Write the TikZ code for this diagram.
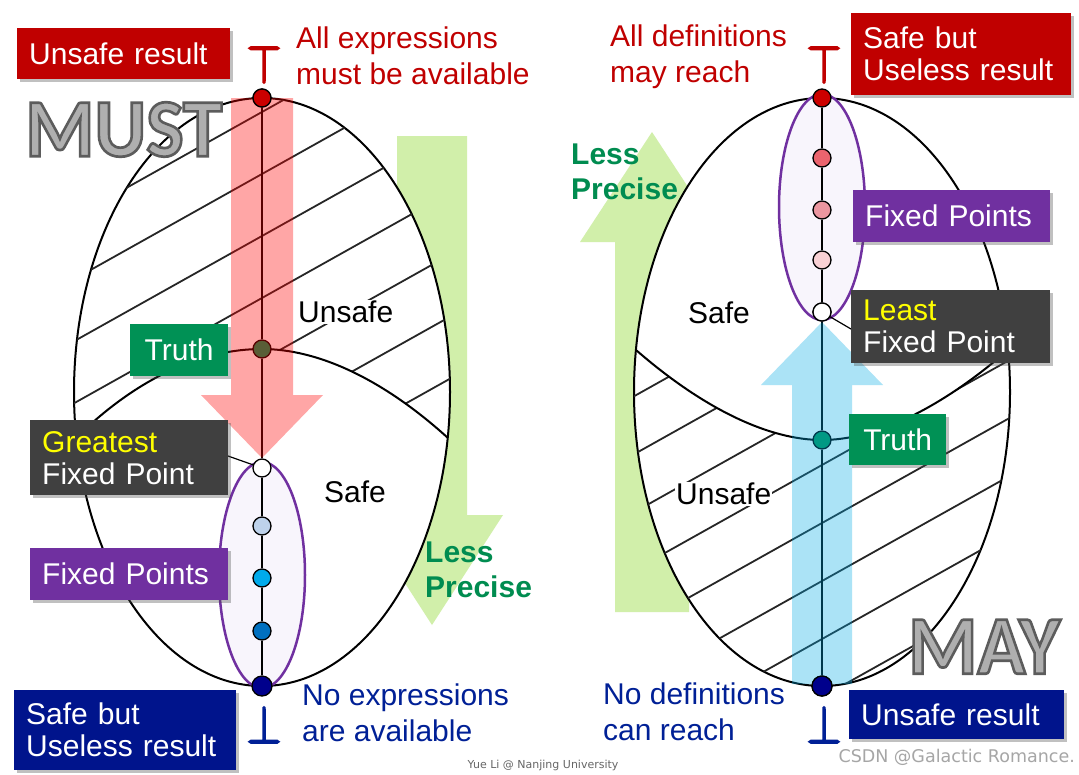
\documentclass[tikz,border=0pt]{standalone}
\usepackage{fontspec}
\setmainfont{Liberation Sans}
\newfontfamily\wordart{Carlito}
\newfontfamily\dejavu{DejaVu Sans}
\usetikzlibrary{shadows}
\definecolor{boxred}{RGB}{192,0,0}
\definecolor{txtred}{RGB}{192,0,0}
\definecolor{navybox}{RGB}{0,20,140}
\definecolor{navytxt}{RGB}{0,32,150}
\definecolor{truthgreen}{RGB}{0,145,85}
\definecolor{fppurple}{RGB}{112,48,160}
\definecolor{darkbox}{RGB}{64,64,64}
\definecolor{hiyellow}{RGB}{255,255,0}
\definecolor{lessgreen}{RGB}{209,239,170}
\definecolor{precgreen}{RGB}{0,140,80}
\definecolor{lavender}{RGB}{248,245,252}
\definecolor{arrowblue}{RGB}{0,170,230}
\definecolor{wordgray}{RGB}{175,175,175}
\definecolor{dotredA}{RGB}{204,0,0}
\definecolor{dotredB}{RGB}{235,100,110}
\definecolor{dotredC}{RGB}{235,150,160}
\definecolor{dotredD}{RGB}{248,208,212}
\definecolor{dotblueA}{RGB}{190,210,235}
\definecolor{dotblueB}{RGB}{0,170,235}
\definecolor{dotblueC}{RGB}{0,112,192}
\definecolor{dotnavy}{RGB}{0,0,140}
\newcommand\outlinedtext[1]{\special{pdf:literal direct 2 Tr 2.6 w 0.36 0.36 0.36 RG}#1\special{pdf:literal direct 0 Tr}}
\newcommand\thicksym[1]{\resizebox{34pt}{37pt}{\special{pdf:literal direct 2 Tr 0.4 w}$#1$\special{pdf:literal direct 0 Tr}}}
\tikzset{
  lbl/.style={font=\fontsize{30}{36}\selectfont, align=left, inner sep=0pt, anchor=west},
  boldlbl/.style={font=\fontsize{30}{35}\selectfont\bfseries, align=left, inner sep=0pt, anchor=west, text=precgreen},
  box/.style={font=\fontsize{30}{32}\selectfont, align=left, text=white, anchor=north west,
    inner xsep=12pt, inner ysep=0pt,
    drop shadow={shadow xshift=3pt, shadow yshift=-3pt, opacity=0.35, fill=black!70}},
  dot/.style={circle, draw=black, line width=1.3pt, minimum size=18pt, inner sep=0pt},
  hatch/.style={line width=1.8pt, black!85},
  outline/.style={line width=2pt, black},
  vline/.style={line width=1.2pt, black},
  fpell/.style={line width=2.5pt, draw=fppurple, fill=lavender},
  wordartstyle/.style={font=\wordart\bfseries\fontsize{80}{80}\selectfont, text=wordgray, inner sep=0pt, anchor=south west},
  bigsym/.style={inner sep=0pt, anchor=south},
}
\begin{document}
\begin{tikzpicture}[x=1pt,y=-1pt]
\useasboundingbox (0,0) rectangle (1079,774);
\fill[white] (0,0) rectangle (1079,774);

% green "less precise" arrows (behind ellipses)
\fill[lessgreen] (397,136) -- (467,136) -- (467,515) -- (503,515) -- (432,625) -- (361,515) -- (397,515) -- cycle;
\fill[lessgreen] (615,612) -- (689,612) -- (689,242) -- (724,242) -- (652,132) -- (580,242) -- (615,242) -- cycle;

% big ellipses
\draw[outline, fill=white] (262,392) ellipse [x radius=188, y radius=294];
\draw[outline, fill=white] (822,392) ellipse [x radius=188, y radius=294];

% hatching, left (upper region)
\begin{scope}
\clip (262,392) ellipse [x radius=188, y radius=294];
\clip (60,446) -- (76,438) .. controls (140,375) and (205,349) .. (262,349) .. controls (319,349) and (384,380) .. (448,438) -- (470,446) -- (470,80) -- (60,80) -- cycle;
\foreach \c in {112,174,236,298,360,422,484}
  \draw[hatch] (50,{\c+118.7}) -- (480,{\c-122.1});
\end{scope}
% hatching, right (lower region)
\begin{scope}
\clip (822,392) ellipse [x radius=188, y radius=294];
\clip (620,342) -- (636,350) .. controls (705,410) and (770,440) .. (822,440) .. controls (874,440) and (939,410) .. (1008,350) -- (1024,342) -- (1024,700) -- (620,700) -- cycle;
\foreach \c in {291,349,407,465,523,581,639,697}
  \draw[hatch] (620,{\c+113.1}) -- (1024,{\c-113.1});
\end{scope}

% boundary curves
\draw[outline] (76,438) .. controls (140,375) and (205,349) .. (262,349) .. controls (319,349) and (384,380) .. (448,438);
\draw[outline] (636,350) .. controls (705,410) and (770,440) .. (822,440) .. controls (874,440) and (939,410) .. (1008,350);

% fixed point ellipses
\draw[fpell] (262,575) ellipse [x radius=43, y radius=113];
\draw[fpell] (822,207) ellipse [x radius=43, y radius=113];

% dots
\node[dot, fill=dotredA] (L0) at (262,98) {};
\node[dot, fill=truthgreen] (LT) at (262,349) {};
\node[dot, fill=white] (L1) at (262,468) {};
\node[dot, fill=dotblueA] (L2) at (262,526) {};
\node[dot, fill=dotblueB] (L3) at (262,578) {};
\node[dot, fill=dotblueC] (L4) at (262,631) {};
\node[dot, fill=dotnavy, minimum size=20pt] (L5) at (262,686) {};

\node[dot, fill=dotredA] (R0) at (822,98) {};
\node[dot, fill=dotredB] (R1) at (822,158) {};
\node[dot, fill=dotredC] (R2) at (822,210) {};
\node[dot, fill=dotredD] (R3) at (822,260) {};
\node[dot, fill=white] (R4) at (822,312) {};
\node[dot, fill=truthgreen] (RT) at (822,440) {};
\node[dot, fill=dotnavy, minimum size=20pt] (R5) at (822,686) {};

% vertical chains
\draw[vline] (L0) -- (LT) -- (L1) -- (L2) -- (L3) -- (L4) -- (L5);
\draw[vline] (R0) -- (R1) -- (R2) -- (R3) -- (R4) -- (RT) -- (R5);

% semi-transparent direction arrows
\fill[red, opacity=0.35] (231,98) -- (293,98) -- (293,395) -- (323,395) -- (262,458) -- (201,395) -- (231,395) -- cycle;
\fill[arrowblue, opacity=0.33] (792,684) -- (852,684) -- (852,385) -- (883,385) -- (822,322) -- (761,385) -- (792,385) -- cycle;

% redraw end dots on top
\node[dot, fill=dotredA] at (262,98) {};
\node[dot, fill=dotnavy, minimum size=20pt] at (822,686) {};
\node[dot, fill=white] at (822,312) {};

% region labels
\node[lbl, fill=white, inner sep=1pt] (unsafeLtxt) at (297,312) {Unsafe};
\node[lbl] (safeLtxt) at (324,492) {Safe};
\node[lbl] (safeRtxt) at (688,313) {Safe};
\node[lbl, fill=white, inner sep=1pt] (unsafeRtxt) at (675,494) {Unsafe};

% top / bottom symbols
\node[bigsym, text=txtred] (topL) at (264,83) {\thicksym{\top}};
\node[bigsym, text=navytxt] (botL) at (264,743) {\thicksym{\bot}};
\node[bigsym, text=txtred] (topR) at (824,83) {\thicksym{\top}};
\node[bigsym, text=navytxt] (botR) at (824,743) {\thicksym{\bot}};

% captions
\node[lbl, text=txtred] (allexpr) at (296,56) {All expressions\\must be available};
\node[lbl, text=navytxt] (noexpr) at (302,713) {No expressions\\are available};
\node[lbl, text=txtred] (alldef) at (610,57) {All definitions\\may reach};
\node[lbl, text=navytxt] (nodef) at (603,712) {No definitions\\can reach};
\node[boldlbl] (lessL) at (425,570) {Less\\Precise};
\node[boldlbl] (lessR) at (571,172) {Less\\Precise};

% word art
\node[wordartstyle] (must) at (25,157) {\resizebox{197pt}{54pt}{\outlinedtext{MUST}}};
\node[wordartstyle] (may) at (908,674) {\resizebox{152pt}{54pt}{\outlinedtext{MAY}}};

% connectors from callout boxes
\coordinate (gfpend) at (228,456);
\coordinate (lfpend) at (851,329);
\draw[vline] (gfpend) -- (L1);
\draw[vline] (R4) -- (lfpend);

% boxes
\node[box, fill=boxred, minimum width=213, minimum height=51, text width=189] (unsafeL) at (17,28) {Unsafe result};
\node[box, fill=truthgreen, minimum width=98, minimum height=52, text width=74, align=center] (truthL) at (130,324) {Truth};
\node[box, fill=darkbox, minimum width=198, minimum height=75, text width=174] (gfpL) at (30,420) {\textcolor{hiyellow}{Greatest}\\Fixed Point};
\node[box, fill=fppurple, minimum width=198, minimum height=52, text width=174] (fpL) at (30,548) {Fixed Points};
\node[box, fill=navybox, minimum width=222, minimum height=80, text width=198] (sbuL) at (14,690) {Safe but\\Useless result};

\node[box, fill=boxred, minimum width=220, minimum height=82, text width=196] (sbuR) at (851,13) {Safe but\\Useless result};
\node[box, fill=fppurple, minimum width=197, minimum height=52, text width=173] (fpR) at (853,190) {Fixed Points};
\node[box, fill=darkbox, minimum width=199, minimum height=73, text width=175] (lfpR) at (851,290) {\textcolor{hiyellow}{Least}\\Fixed Point};
\node[box, fill=truthgreen, minimum width=97, minimum height=51, text width=73, align=center] (truthR) at (849,414) {Truth};
\node[box, fill=navybox, minimum width=215, minimum height=49, text width=191] (unsafeR) at (849,690) {Unsafe result};

% footer texts
\node[font=\dejavu\fontsize{11}{11}\selectfont, text=black!60, inner sep=0pt] (credit) at (543,765) {Yue Li @ Nanjing University};
\node[font=\dejavu\fontsize{17.5}{17.5}\selectfont, text=black!35, inner sep=0pt, anchor=east] (csdn) at (1075,757) {CSDN @Galactic Romance.};
\end{tikzpicture}
\end{document}
